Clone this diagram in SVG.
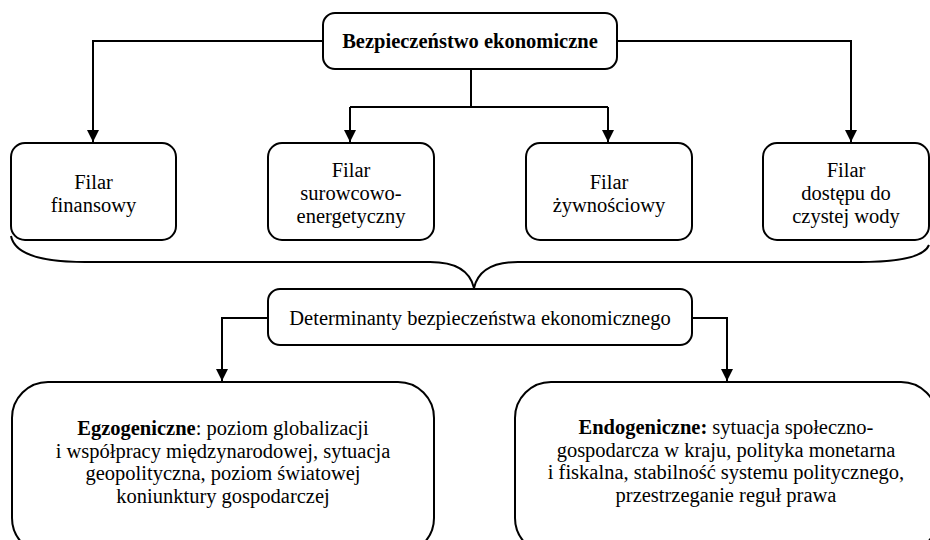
<svg xmlns="http://www.w3.org/2000/svg" width="930" height="540" viewBox="0 0 930 540">
  <style>
    .box { fill: #ffffff; stroke: #000000; stroke-width: 2; }
    .conn { fill: none; stroke: #000000; stroke-width: 2; }
    .lbl { font-family: 'Liberation Serif', 'Times New Roman', 'DejaVu Serif', serif; font-size: 20.5px; fill: #000000; text-anchor: middle; }
    .bold { font-weight: bold; }
  </style>
  <defs>
    <marker id="arrow" markerUnits="userSpaceOnUse" markerWidth="14" markerHeight="14" viewBox="0 0 14 14" refX="12" refY="7" orient="auto">
      <path d="M0,1 L12,7 L0,13 Z" fill="#000000"/>
    </marker>
  </defs>
  <rect width="930" height="540" fill="#ffffff"/>

  <g id="connectors">
    <path class="conn" d="M323,41 H93 V142" marker-end="url(#arrow)"/>
    <path class="conn" d="M617,41 H851 V142" marker-end="url(#arrow)"/>
    <path class="conn" d="M471,69 V107"/>
    <path class="conn" d="M350,107 H608"/>
    <path class="conn" d="M350,107 V142" marker-end="url(#arrow)"/>
    <path class="conn" d="M608,107 V142" marker-end="url(#arrow)"/>
    <!-- brace gathering the four pillars -->
    <path class="conn" d="M11,236 Q16,262 85,262 L430,262 Q468,262 474,288 Q480,262 518,262 L860,262 Q922,262 929,245"/>
    <path class="conn" d="M268,318 H222 V381" marker-end="url(#arrow)"/>
    <path class="conn" d="M692,318 H727 V381" marker-end="url(#arrow)"/>
  </g>

  <g id="node-root">
    <rect class="box" x="323" y="13" width="294" height="56" rx="12"/>
    <text class="lbl bold" font-size="20" x="470" y="48">Bezpieczeństwo ekonomiczne</text>
  </g>

  <g id="node-finansowy">
    <rect class="box" x="11" y="143" width="165" height="97" rx="14"/>
    <text class="lbl" x="93.5" y="189">Filar</text>
    <text class="lbl" x="93.5" y="212">finansowy</text>
  </g>

  <g id="node-surowcowy">
    <rect class="box" x="268" y="143" width="166" height="97" rx="14"/>
    <text class="lbl" x="351" y="177">Filar</text>
    <text class="lbl" x="351" y="200">surowcowo-</text>
    <text class="lbl" x="351" y="223">energetyczny</text>
  </g>

  <g id="node-zywnosciowy">
    <rect class="box" x="526" y="143" width="166" height="97" rx="14"/>
    <text class="lbl" x="609" y="189">Filar</text>
    <text class="lbl" x="609" y="212">żywnościowy</text>
  </g>

  <g id="node-woda">
    <rect class="box" x="763" y="143" width="166" height="97" rx="14"/>
    <text class="lbl" x="846" y="177">Filar</text>
    <text class="lbl" x="846" y="200">dostępu do</text>
    <text class="lbl" x="846" y="223">czystej wody</text>
  </g>

  <g id="node-determinanty">
    <rect class="box" x="268" y="289" width="424" height="56" rx="12"/>
    <text class="lbl" x="480" y="325">Determinanty bezpieczeństwa ekonomicznego</text>
  </g>

  <g id="node-egzogeniczne">
    <rect class="box" x="12" y="382" width="422" height="172" rx="36"/>
    <text class="lbl" x="223" y="435"><tspan class="bold">Egzogeniczne</tspan>: poziom globalizacji</text>
    <text class="lbl" x="223" y="458">i współpracy międzynarodowej, sytuacja</text>
    <text class="lbl" x="223" y="480">geopolityczna, poziom światowej</text>
    <text class="lbl" x="223" y="503">koniunktury gospodarczej</text>
  </g>

  <g id="node-endogeniczne">
    <rect class="box" x="515" y="382" width="422" height="172" rx="36"/>
    <text class="lbl" x="726" y="434"><tspan class="bold">Endogeniczne:</tspan> sytuacja społeczno-</text>
    <text class="lbl" x="726" y="457">gospodarcza w kraju, polityka monetarna</text>
    <text class="lbl" x="726" y="479">i fiskalna, stabilność systemu politycznego,</text>
    <text class="lbl" x="726" y="502">przestrzeganie reguł prawa</text>
  </g>
</svg>
